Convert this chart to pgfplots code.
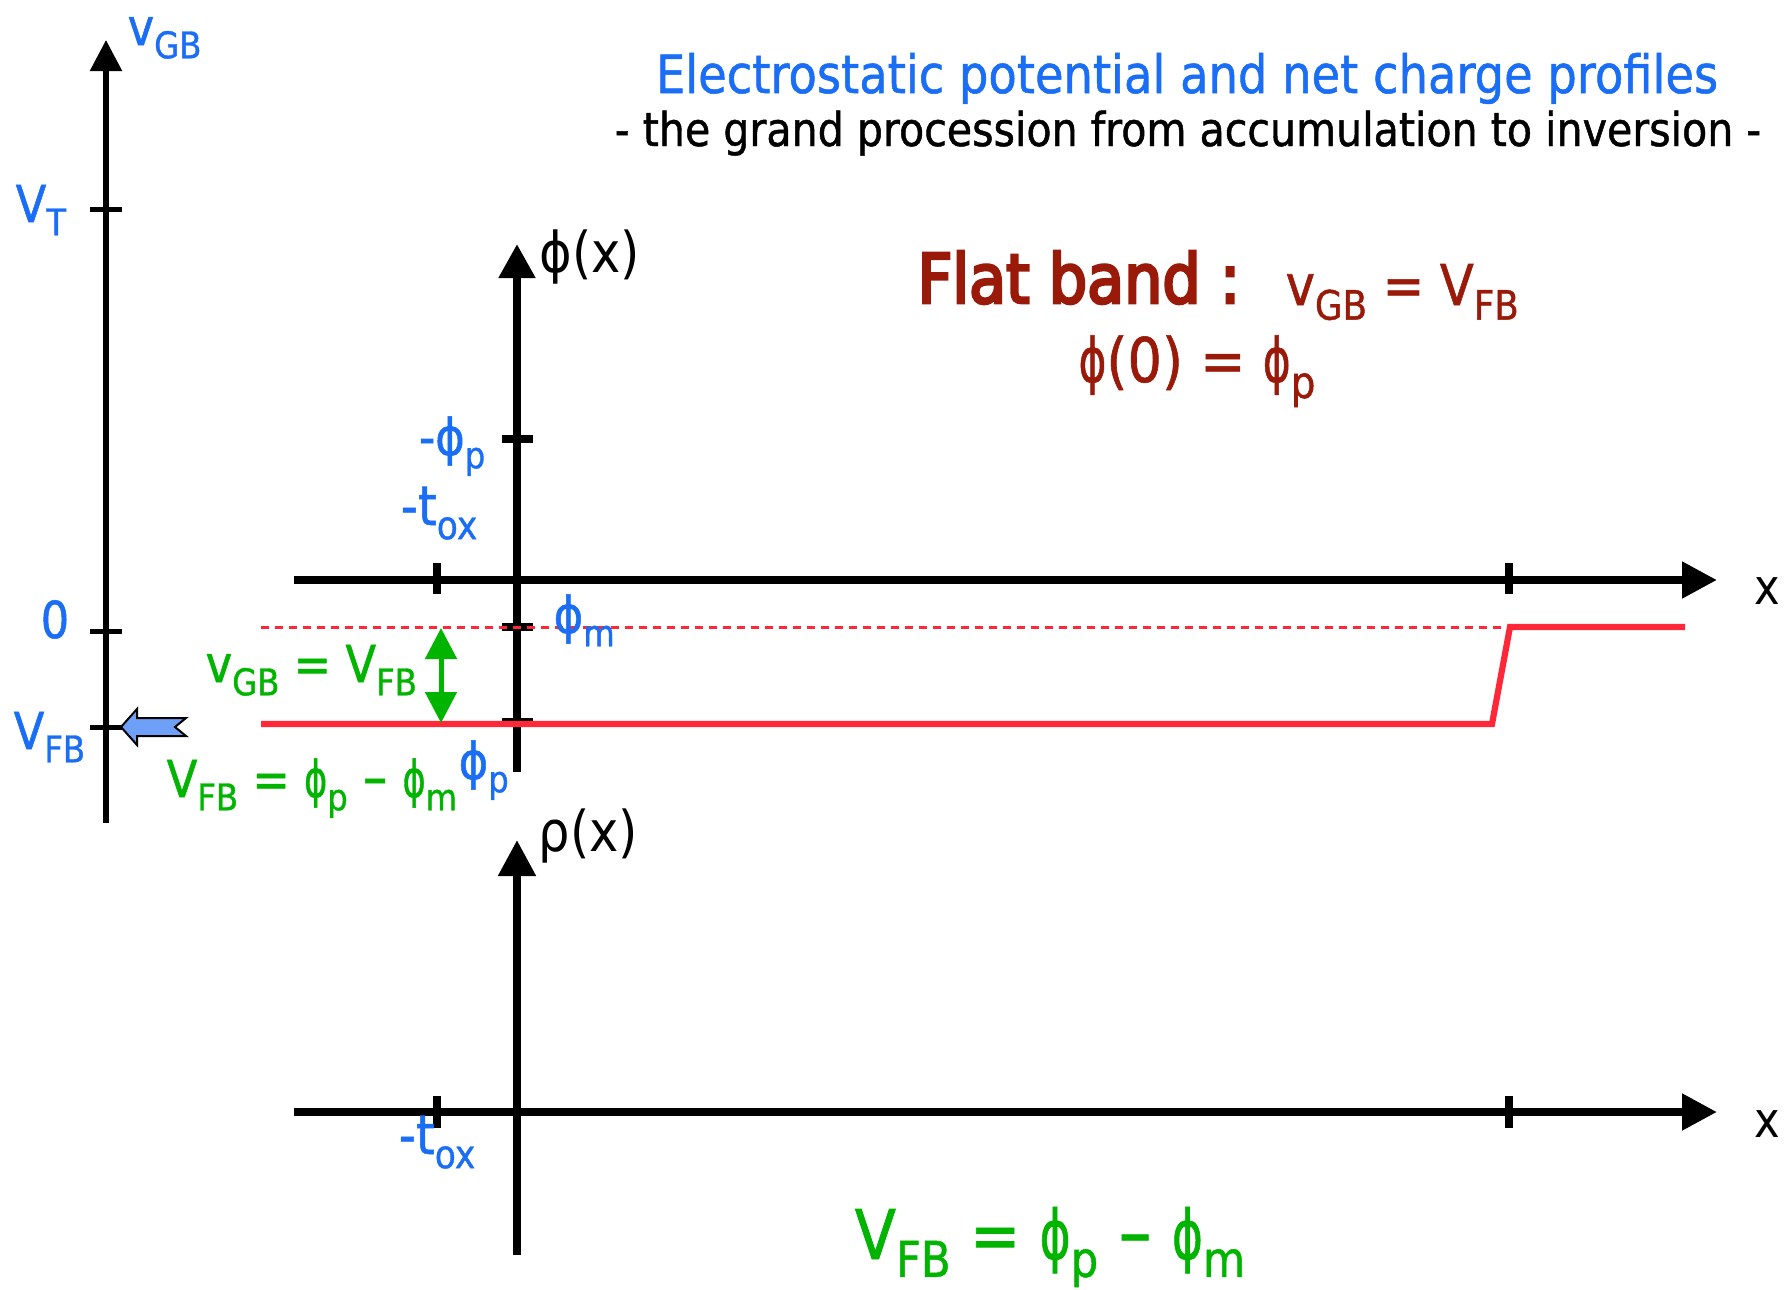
\documentclass[border=0pt]{standalone}
\usepackage{pgfplots}
\pgfplotsset{compat=1.18}
\usepackage{fontspec}
\usepackage{graphicx}
\usetikzlibrary{arrows.meta}
\setmainfont{DejaVu Sans}[FakeStretch=0.88, FakeBold=1]
\newfontfamily\thinfont{DejaVu Sans}[FakeStretch=0.88]
\newfontfamily\heavyfont{DejaVu Sans}[FakeStretch=0.88, FakeBold=4]
\definecolor{tblue}{HTML}{1A6EF5}
\definecolor{tgreen}{HTML}{00B400}
\definecolor{tdred}{HTML}{9A1A0A}
\definecolor{tred}{HTML}{FF2838}
\definecolor{afill}{HTML}{6FA0F7}
\newcommand{\sub}[1]{\raisebox{-0.26em}{\scalebox{0.72}{#1}}}
\newcommand{\fs}[1]{\fontsize{#1}{#1}\selectfont}
\newcommand{\ph}{\scalebox{0.78}[1]{ϕ}}
\newcommand{\mn}{\scalebox{0.7}[1]{−}}
\begin{document}
\begin{tikzpicture}
\begin{axis}[
  width=17.86cm, height=12.90cm, scale only axis,
  xmin=0, xmax=1786, ymin=0, ymax=1290, y dir=reverse,
  hide axis, clip=false,
]
% frame for bounding box
\addplot[draw=none] coordinates {(0,0) (1786,1290)};
% ---- v_GB axis ----
\addplot[black, line width=0.55mm, -{Triangle[length=3.1mm,width=3.1mm]}] coordinates {(106,823) (106,40)};
\addplot[black, line width=0.5mm] coordinates {(90,209) (122,209)};
\addplot[black, line width=0.5mm] coordinates {(90,631) (122,631)};
\addplot[black, line width=0.5mm] coordinates {(90,727) (122,727)};
% blue block arrow
\addplot[draw=black, line width=0.2mm, fill=afill] coordinates {(121,727) (137,709) (137,718) (186,718) (175,727) (186,736) (137,736) (137,745)} -- cycle;
% ---- phi(x) axes ----
\addplot[black, line width=0.8mm, -{Triangle[length=3.5mm,width=3.5mm]}] coordinates {(294,580) (1717,580)};
\addplot[black, line width=0.8mm, -{Triangle[length=3.4mm,width=3.5mm]}] coordinates {(517,772) (517,244)};
\addplot[black, line width=0.8mm] coordinates {(437,563) (437,594)};
\addplot[black, line width=0.8mm] coordinates {(1509,563) (1509,594)};
\addplot[black, line width=0.8mm] coordinates {(502,439) (533,439)};
\addplot[black, line width=0.8mm] coordinates {(502,627) (533,627)};
\addplot[black, line width=0.45mm] coordinates {(502,720) (533,720)};
% ---- rho(x) axes ----
\addplot[black, line width=0.8mm, -{Triangle[length=3.5mm,width=3.5mm]}] coordinates {(294,1112) (1717,1112)};
\addplot[black, line width=0.8mm, -{Triangle[length=3.6mm,width=3.6mm]}] coordinates {(517,1255) (517,840)};
\addplot[black, line width=0.8mm] coordinates {(437,1096) (437,1128)};
\addplot[black, line width=0.8mm] coordinates {(1509,1096) (1509,1128)};
% ---- red potential ----
\addplot[tred, line width=0.3mm, dash pattern=on 0.8mm off 0.6mm] coordinates {(261,627) (1509,627)};
\addplot[tred, line width=0.62mm] coordinates {(261,724) (1492,724) (1510,627) (1685,627)};
% green double arrow
\addplot[tgreen, line width=0.5mm, {Triangle[length=3.1mm,width=3.1mm]}-{Triangle[length=3.1mm,width=3.1mm]}] coordinates {(441,628) (441,723)};
% ---- texts ----
\node[anchor=base, inner sep=0, text=tblue] at (axis cs:1187,93) {\fs{15pt}Electrostatic potential and net charge profiles};
\node[anchor=base, inner sep=0] at (axis cs:1188,146) {\fs{13.3pt}- the grand procession from accumulation to inversion -};
\node[anchor=base west, inner sep=0, text=tdred] at (axis cs:917,303) {\fs{19.5pt}\heavyfont Flat band :};
\node[anchor=base west, inner sep=0, text=tdred] at (axis cs:1285,305) {\fs{16pt}v\sub{GB} = V\sub{FB}};
\node[anchor=base, inner sep=0, text=tdred] at (axis cs:1197,382) {\fs{17.5pt}\ph(0) = \ph\sub{p}};
\node[anchor=base, inner sep=0, text=tgreen] at (axis cs:1050,1259) {\fs{19.5pt}V\sub{FB} = \ph\sub{p} \mn\ \ph\sub{m}};
% axis labels
\node[anchor=base west, inner sep=0, text=tblue] at (axis cs:127,45) {\fs{14.5pt}v\sub{GB}};
\node[anchor=base west, inner sep=0, text=tblue] at (axis cs:15,222) {\fs{14.5pt}V\sub{T}};
\node[anchor=base west, inner sep=0, text=tblue] at (axis cs:40,638) {\fs{14.5pt}0};
\node[anchor=base west, inner sep=0, text=tblue] at (axis cs:13,749) {\fs{14.5pt}V\sub{FB}};
\node[anchor=base west, inner sep=0] at (axis cs:539,272) {\fs{16pt}\thinfont ϕ(x)};
\node[anchor=base west, inner sep=0] at (axis cs:538,851) {\fs{16pt}\thinfont ρ(x)};
\node[anchor=base west, inner sep=0] at (axis cs:1754,604) {\fs{14pt}\thinfont x};
\node[anchor=base west, inner sep=0] at (axis cs:1754,1137) {\fs{14pt}\thinfont x};
\node[anchor=base east, inner sep=0, text=tblue] at (axis cs:486,455) {\fs{14.5pt}-ϕ\sub{p}};
\node[anchor=base east, inner sep=0, text=tblue] at (axis cs:478,525) {\fs{15.5pt}-t\sub{ox}};
\node[anchor=base east, inner sep=0, text=tblue] at (axis cs:476,1154) {\fs{15.5pt}-t\sub{ox}};
\node[anchor=base west, inner sep=0, text=tblue] at (axis cs:553,633) {\fs{14.5pt}ϕ\sub{m}};
\node[anchor=base west, inner sep=0, text=tblue] at (axis cs:458,779) {\fs{14.5pt}ϕ\sub{p}};
\node[anchor=base west, inner sep=0, text=tgreen] at (axis cs:205,682) {\fs{14.5pt}v\sub{GB} = V\sub{FB}};
\node[anchor=base west, inner sep=0, text=tgreen] at (axis cs:166,797) {\fs{14.5pt}V\sub{FB} = \ph\sub{p} \mn\ \ph\sub{m}};
\end{axis}
\end{tikzpicture}
\end{document}
